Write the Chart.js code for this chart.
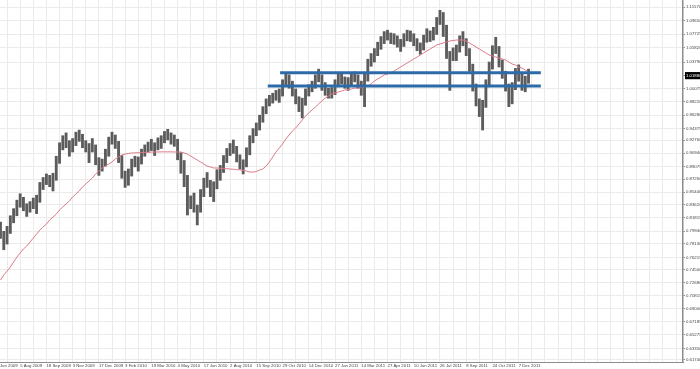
<!DOCTYPE html>
<html><head><meta charset="utf-8">
<script src="https://cdn.jsdelivr.net/npm/chart.js@4.4.1/dist/chart.umd.min.js"></script>
<style>html,body{margin:0;padding:0;background:#fff;overflow:hidden}canvas{display:block}</style>
</head><body>
<canvas id="c" width="700" height="369"></canvas>
<script>
// ---- data (AUD/USD daily) ----
const dateLabels = ["22 Jun 2009","5 Aug 2009","18 Sep 2009","3 Nov 2009","17 Dec 2009","3 Feb 2010","19 Mar 2010","4 May 2010","17 Jun 2010","2 Aug 2010","15 Sep 2010","29 Oct 2010","14 Dec 2010","27 Jan 2011","14 Mar 2011","27 Apr 2011","10 Jun 2011","26 Jul 2011","8 Sep 2011","24 Oct 2011","7 Dec 2011"];
const firstLabelDay = -8;     // trading-day index of first date label
const daysPerLabel = 32;      // trading days between date labels
const daysPerBar = 4;         // each bar below covers 4 trading days

const priceTickLabels = ["1.11570","1.09650","1.07725","1.05820","1.03790","1.00075","0.98220","0.96280","0.94375","0.92760","0.90940","0.89075","0.87260","0.85440","0.83620","0.81815","0.79940","0.78130","0.76215","0.74500","0.72680","0.70815","0.69000","0.67185","0.65275","0.63350","0.61740"];
const lastPriceLabel = "1.01880";

const lows = [
0.789,0.773,0.781,0.796,0.811,0.821,0.833,0.828,0.820,0.826,
0.831,0.824,0.840,0.858,0.865,0.862,0.856,0.871,0.895,0.914,
0.917,0.905,0.911,0.920,0.926,0.917,0.911,0.896,0.911,0.893,
0.878,0.884,0.891,0.905,0.922,0.916,0.896,0.874,0.861,0.864,
0.877,0.890,0.884,0.894,0.905,0.911,0.913,0.906,0.914,0.916,
0.924,0.928,0.922,0.919,0.900,0.881,0.862,0.822,0.831,0.826,
0.808,0.826,0.848,0.861,0.848,0.841,0.859,0.871,0.882,0.896,
0.906,0.909,0.897,0.887,0.880,0.890,0.907,0.924,0.934,0.942,
0.953,0.965,0.976,0.980,0.984,0.981,0.990,1.003,1.001,0.990,
0.979,0.968,0.959,0.977,0.990,0.996,1.001,1.010,0.998,0.991,
0.987,0.987,0.992,1.003,1.007,1.001,0.998,1.006,1.010,1.001,
0.991,0.975,1.011,1.032,1.038,1.047,1.056,1.064,1.069,1.064,
1.063,1.059,1.053,1.060,1.068,1.067,1.061,1.054,1.049,1.055,
1.066,1.067,1.069,1.077,1.091,1.074,1.043,0.998,1.040,1.040,
1.052,1.061,1.047,1.025,0.997,0.976,0.961,0.942,0.974,1.003,
1.028,1.050,1.031,1.015,0.997,0.975,0.979,0.999,1.011,0.998,
0.996,1.008];
const highs = [
0.812,0.799,0.806,0.821,0.831,0.843,0.852,0.847,0.838,0.841,
0.846,0.850,0.868,0.875,0.880,0.878,0.881,0.905,0.924,0.934,
0.938,0.927,0.930,0.939,0.942,0.936,0.927,0.923,0.930,0.921,
0.903,0.901,0.915,0.932,0.939,0.935,0.926,0.906,0.884,0.887,
0.901,0.905,0.904,0.915,0.921,0.925,0.929,0.924,0.931,0.934,
0.940,0.943,0.938,0.935,0.929,0.910,0.899,0.878,0.849,0.853,
0.836,0.858,0.874,0.882,0.871,0.869,0.886,0.892,0.906,0.916,
0.923,0.928,0.919,0.907,0.900,0.917,0.934,0.944,0.952,0.963,
0.975,0.986,0.991,0.994,0.998,1.000,1.013,1.023,1.020,1.011,
1.000,0.989,0.987,1.000,1.006,1.011,1.020,1.028,1.020,1.009,
1.001,1.002,1.013,1.023,1.022,1.017,1.016,1.023,1.024,1.020,
1.011,1.021,1.042,1.050,1.057,1.066,1.074,1.081,1.083,1.079,
1.078,1.075,1.070,1.078,1.083,1.082,1.078,1.071,1.065,1.076,
1.085,1.082,1.087,1.101,1.111,1.108,1.090,1.053,1.058,1.062,
1.075,1.081,1.071,1.057,1.035,1.007,0.986,0.984,1.013,1.038,
1.061,1.073,1.060,1.041,1.025,1.007,1.009,1.029,1.034,1.021,
1.018,1.028];
const movingAverage = [
0.7302,0.7373,0.7429,0.7486,0.7557,0.7627,0.7684,0.7740,0.7782,0.7839,
0.7895,0.7952,0.8008,0.8051,0.8093,0.8150,0.8192,0.8234,0.8291,0.8333,
0.8376,0.8418,0.8474,0.8517,0.8559,0.8616,0.8658,0.8700,0.8743,0.8799,
0.8841,0.8884,0.8912,0.8940,0.8969,0.9011,0.9039,0.9067,0.9081,0.9089,
0.9096,0.9098,0.9100,0.9102,0.9104,0.9106,0.9108,0.9110,0.9110,0.9112,
0.9112,0.9112,0.9112,0.9110,0.9110,0.9110,0.9096,0.9081,0.9053,0.9025,
0.8997,0.8969,0.8940,0.8912,0.8898,0.8884,0.8884,0.8880,0.8877,0.8874,
0.8870,0.8866,0.8862,0.8858,0.8850,0.8841,0.8827,0.8827,0.8834,0.8856,
0.8870,0.8912,0.8969,0.9039,0.9110,0.9166,0.9223,0.9293,0.9350,0.9406,
0.9449,0.9505,0.9562,0.9618,0.9661,0.9703,0.9745,0.9788,0.9830,0.9872,
0.9900,0.9929,0.9943,0.9957,0.9971,0.9985,0.9992,0.9999,1.0013,1.0013,
1.0020,1.0028,1.0042,1.0070,1.0112,1.0141,1.0169,1.0197,1.0211,1.0225,
1.0254,1.0282,1.0310,1.0338,1.0366,1.0395,1.0423,1.0451,1.0479,1.0508,
1.0536,1.0564,1.0592,1.0621,1.0635,1.0649,1.0663,1.0677,1.0684,1.0691,
1.0691,1.0691,1.0677,1.0649,1.0621,1.0592,1.0564,1.0536,1.0508,1.0479,
1.0465,1.0451,1.0437,1.0423,1.0409,1.0381,1.0352,1.0338,1.0310,1.0296,
1.0268,1.0239];
// horizontal support / resistance lines (price, first day, last day)
const levelPrices = [1.0230, 1.0042];
const levelStartDays = [341, 326];
const levelEndDays = [659, 659];

// ---- build ----
const barData = lows.map((lo, i) => ({x: i * daysPerBar, y: [lo, highs[i]]}));
const maData = movingAverage.map((v, i) => ({x: i * daysPerBar, y: v}));
const levelSets = levelPrices.map((p, k) => ({
  type: 'line', data: [{x: levelStartDays[k], y: p}, {x: levelEndDays[k], y: p}],
  borderColor: '#2c6aa8', borderWidth: 3, pointRadius: 0, order: 0
}));

const lastPriceVal = parseFloat(lastPriceLabel);
const yTickTexts = priceTickLabels.concat([lastPriceLabel]);
const FONT = {family: "'Liberation Sans', Arial, sans-serif", size: 4.3};

new Chart(document.getElementById('c'), {
  type: 'bar',
  data: {
    datasets: [
      {type: 'bar', data: barData, backgroundColor: '#5c5c5c', borderWidth: 0, barThickness: 2.2, order: 2},
      {type: 'line', data: maData, borderColor: '#dc7b88', borderWidth: 1, pointRadius: 0, tension: 0, order: 1},
      ...levelSets
    ]
  },
  options: {
    responsive: false, animation: false, devicePixelRatio: 1,
    layout: {padding: 0},
    plugins: {legend: {display: false}, tooltip: {enabled: false}},
    scales: {
      x: {
        type: 'linear', min: -0.6, max: 832.4, offset: false,
        afterBuildTicks: s => {
          const t = [];
          for (let d = firstLabelDay; d <= s.max; d += daysPerLabel / 2) t.push({value: d});
          s.ticks = t;
        },
        afterFit: s => { s.height = 7; s.paddingLeft = 0; s.paddingRight = 0; },
        grid: {color: '#ebebeb', lineWidth: 1, drawTicks: false, offset: false},
        border: {display: true, color: '#8c8c8c', width: 1},
        ticks: {
          autoSkip: false, maxRotation: 0, minRotation: 0, align: 'start', padding: 1,
          color: '#444', font: FONT,
          callback: v => {
            const k = (v - firstLabelDay) / daysPerLabel;
            return Number.isInteger(k) && k < dateLabels.length ? dateLabels[k] : '';
          }
        }
      },
      y: {
        position: 'right', min: 0.6145, max: 1.1256,
        afterBuildTicks: s => { s.ticks = yTickTexts.map(t => ({value: parseFloat(t)})); },
        afterFit: s => { s.width = 17; s.paddingTop = 0; s.paddingBottom = 0; },
        grid: {
          color: c => (c.tick && c.tick.value === lastPriceVal) ? 'rgba(0,0,0,0)' : '#ebebeb',
          tickColor: '#8c8c8c', tickLength: 2, lineWidth: 1
        },
        border: {display: true, color: '#8c8c8c', width: 1.5},
        ticks: {
          padding: 1, font: FONT, crossAlign: 'near',
          color: c => (c.tick && c.tick.value === lastPriceVal) ? '#ffffff' : '#444',
          showLabelBackdrop: c => !!(c.tick && c.tick.value === lastPriceVal),
          backdropColor: '#000000', backdropPadding: {x: 1, y: 1},
          callback: (v, i) => yTickTexts[i]
        }
      }
    }
  }
});
</script>
</body></html>
